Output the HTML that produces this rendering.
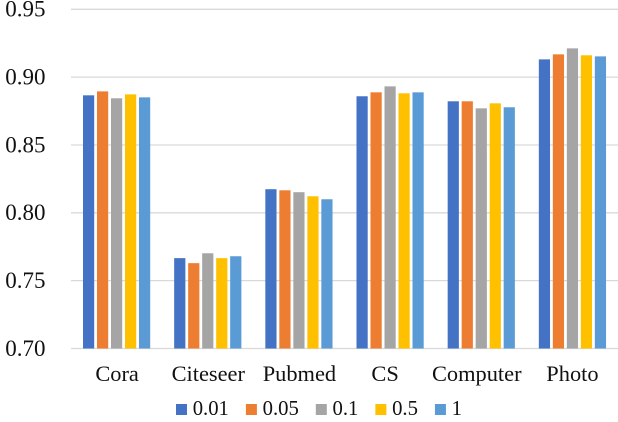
<!DOCTYPE html>
<html lang="en">
<head>
<meta charset="utf-8">
<title>Grouped bar chart</title>
<style>
  html, body { margin: 0; padding: 0; background: #fff; }
  body { width: 618px; height: 422px; overflow: hidden; }
  svg { display: block; }
  text { font-family: "Liberation Serif", serif; fill: #111; }
  #y-axis text { font-size: 23px; }
  #x-axis text { font-size: 22.4px; }
  #legend text { font-size: 20.7px; }
</style>
</head>
<body>
<svg id="chart" width="618" height="422" viewBox="0 0 618 422" xmlns="http://www.w3.org/2000/svg">
  <g id="grid"></g>
  <g id="y-axis"></g>
  <g id="bars"></g>
  <g id="x-axis"></g>
  <g id="legend"></g>
</svg>
<script>
const categories = ["Cora", "Citeseer", "Pubmed", "CS", "Computer", "Photo"];
const seriesNames = ["0.01", "0.05", "0.1", "0.5", "1"];
const tickLabels = ["0.70", "0.75", "0.80", "0.85", "0.90", "0.95"];
const series001 = [0.8866, 0.7666, 0.8174, 0.8859, 0.8822, 0.9131];
const series005 = [0.8895, 0.7629, 0.8166, 0.8888, 0.8822, 0.9168];
const series01 = [0.8844, 0.7702, 0.8152, 0.8932, 0.8770, 0.9212];
const series05 = [0.8873, 0.7666, 0.8122, 0.8881, 0.8807, 0.9161];
const series1 = [0.8851, 0.7680, 0.8100, 0.8888, 0.8778, 0.9153];

const allSeries = [series001, series005, series01, series05, series1];
const colors = ["#4472c4", "#ed7d31", "#a5a5a5", "#ffc000", "#5b9bd5"];
const NS = "http://www.w3.org/2000/svg";

const plot = { left: 71, right: 618, top: 9.3, bottom: 348.5 };
const yMin = 0.70;
const yMax = 0.95;

function yScale(v) {
  return plot.bottom - (v - yMin) / (yMax - yMin) * (plot.bottom - plot.top);
}
function bandStep() {
  return (plot.right - plot.left) / categories.length;
}
function bandStart(i) {
  return plot.left + i * bandStep();
}
function barX(groupIndex, seriesIndex) {
  return bandStart(groupIndex) + 12 + seriesIndex * 14;
}
function make(tag, attrs, parent, content) {
  const el = document.createElementNS(NS, tag);
  for (const k in attrs) el.setAttribute(k, attrs[k]);
  if (content !== undefined) el.textContent = content;
  parent.appendChild(el);
  return el;
}

const gridGroup = document.getElementById("grid");
const yGroup = document.getElementById("y-axis");
tickLabels.forEach(function (label) {
  const v = parseFloat(label);
  const y = yScale(v);
  const line = make("line", { x1: plot.left, x2: plot.right, y1: y, y2: y, stroke: "#d9d9d9", "stroke-width": 1.3 }, gridGroup);
  
  
  const text = make("text", { x: 45.5, y: y + 7.4, "text-anchor": "end" }, yGroup, label);
  
  
});

const barGroup = document.getElementById("bars");
allSeries.forEach(function (values, s) {
  values.forEach(function (value, c) {
    const top = yScale(value);
    const rect = make("rect", { x: barX(c, s), y: top, width: 11.2, height: yScale(yMin) - top, fill: colors[s] }, barGroup);
    
    
  });
});

const labelNudge = { Cora: 0.5, Citeseer: 0.5, Pubmed: 0.5, CS: -5, Computer: -4.5, Photo: 0 };
const xGroup = document.getElementById("x-axis");
categories.forEach(function (name, c) {
  const cx = barX(c, 2) + 5.6 + labelNudge[name];
  const text = make("text", { x: cx, y: 381, "text-anchor": "middle" }, xGroup, name);
  
  
});

const legendGroup = document.getElementById("legend");
const legendLayout = { swatchStart: 176, textGap: 16.7, swatchGap: 17, swatchSize: 11, textY: 415, swatchY: 404 };
let legendX = legendLayout.swatchStart;
seriesNames.forEach(function (name, s) {
  const swatch = make("rect", { x: legendX, y: legendLayout.swatchY, width: legendLayout.swatchSize, height: legendLayout.swatchSize, fill: colors[s] }, legendGroup);
  
  
  const label = make("text", { x: legendX + legendLayout.textGap, y: legendLayout.textY }, legendGroup, name);
  
  
  legendX += legendLayout.textGap + label.getComputedTextLength() + legendLayout.swatchGap;
});
</script>
</body>
</html>
